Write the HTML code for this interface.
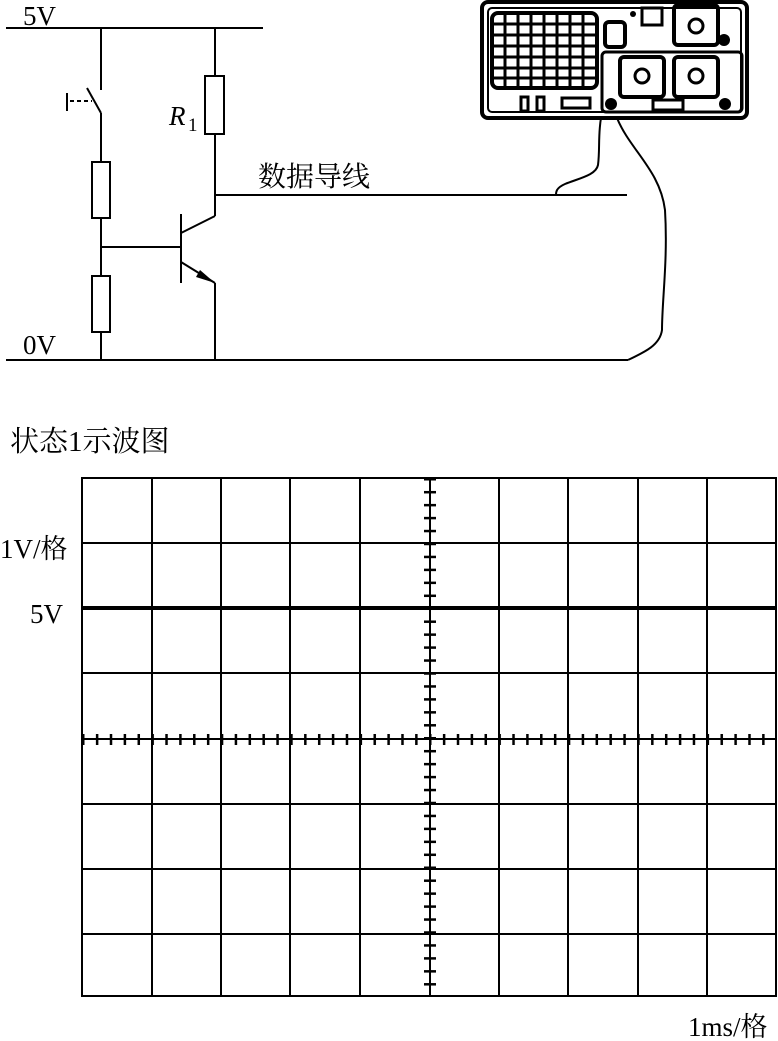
<!DOCTYPE html>
<html><head><meta charset="utf-8"><style>
html,body{margin:0;padding:0;background:#fff;}
svg{display:block;}
text{font-family:"Liberation Serif","Noto Serif CJK SC",serif;fill:#000;}
</style></head><body>
<svg width="778" height="1041" viewBox="0 0 778 1041" xmlns="http://www.w3.org/2000/svg">
<defs>
<pattern id="ht" x="82" y="0" width="13.88" height="10" patternUnits="userSpaceOnUse"><rect x="0" y="0" width="2.5" height="10" fill="#000"/></pattern>
<pattern id="vt" x="0" y="478" width="10" height="12.95" patternUnits="userSpaceOnUse"><rect x="0" y="0" width="10" height="2.5" fill="#000"/></pattern>
</defs>
<g stroke="#000" stroke-width="2" fill="none">
<line x1="6" y1="28" x2="263" y2="28"/>
<line x1="101" y1="28" x2="101" y2="90"/>
<line x1="87" y1="88" x2="101" y2="113"/>
<line x1="67" y1="93" x2="67" y2="111"/>
<line x1="70" y1="101" x2="92" y2="101" stroke-dasharray="4,3"/>
<line x1="101" y1="113" x2="101" y2="162"/>
<rect x="92" y="162" width="18" height="56"/>
<line x1="101" y1="218" x2="101" y2="276"/>
<line x1="101" y1="247" x2="180" y2="247"/>
<rect x="92" y="276" width="18" height="56"/>
<line x1="101" y1="332" x2="101" y2="360"/>
<line x1="6" y1="360" x2="628" y2="360"/>
<line x1="215" y1="28" x2="215" y2="76"/>
<rect x="205" y="76" width="19" height="58"/>
<line x1="215" y1="134" x2="215" y2="216"/>
<line x1="215" y1="195" x2="627" y2="195"/>
<line x1="181" y1="214" x2="181" y2="283"/>
<line x1="181" y1="233" x2="215" y2="216"/>
<line x1="181" y1="262" x2="215" y2="283"/>
<line x1="215" y1="283" x2="215" y2="360"/>
<path d="M601 118 C598 135,600 150,598 165 C596 175,580 178,565 184 C556 188,556 192,556 195"/>
<path d="M617 118 C630 150,660 170,665 210 C668 260,662 300,662 330 C660 345,645 352,628 360"/>
</g>
<polygon points="215,283 200,270 196,277" fill="#000"/>
<g stroke="#000" fill="none">
<rect x="482" y="2" width="265" height="116" rx="6" stroke-width="4"/>
<rect x="488" y="8" width="253" height="104" rx="4" stroke-width="2"/>
<rect x="492" y="13" width="105" height="75" rx="6" stroke-width="4"/>
<g stroke-width="3">
<path d="M505 14V87M518 14V87M531 14V87M544 14V87M557 14V87M570 14V87M583 14V87"/>
<path d="M493 24H596M493 35H596M493 46H596M493 57H596M493 68H596M493 78H596"/>
</g>
<rect x="605" y="22" width="20" height="25" rx="4" stroke-width="4"/>
<rect x="642" y="8" width="20" height="17" stroke-width="3"/>
<rect x="674" y="5" width="44" height="40" rx="4" stroke-width="4"/>
<circle cx="696" cy="26" r="7" stroke-width="3"/>
<rect x="602" y="52" width="140" height="60" rx="4" stroke-width="3"/>
<rect x="620" y="57" width="44" height="40" rx="4" stroke-width="4"/>
<circle cx="642" cy="76" r="7" stroke-width="3"/>
<rect x="674" y="57" width="44" height="40" rx="4" stroke-width="4"/>
<circle cx="696" cy="76" r="7" stroke-width="3"/>
<rect x="521" y="97" width="7" height="14" stroke-width="3"/>
<rect x="537" y="97" width="7" height="14" stroke-width="3"/>
<rect x="562" y="98" width="28" height="10" stroke-width="3"/>
<rect x="653" y="100" width="30" height="10" stroke-width="3"/>
</g>
<g fill="#000">
<circle cx="611" cy="104" r="6"/><circle cx="725" cy="104" r="6"/><circle cx="724" cy="40" r="6"/>
<circle cx="633" cy="14" r="3"/>
</g>
<text x="23" y="25" font-size="27">5V</text>
<text x="23" y="354" font-size="27">0V</text>
<text x="169" y="125" font-size="27" font-style="italic">R</text>
<text x="188" y="131" font-size="19">1</text>
<text x="258" y="186" font-size="28">数据导线</text>
<text x="10" y="451" font-size="29">状态1示波图</text>
<text x="0" y="558" font-size="27">1V/格</text>
<text x="30" y="623" font-size="27">5V</text>
<text x="688" y="1036" font-size="27">1ms/格</text>
<g stroke="#000" stroke-width="2" fill="none">
<rect x="82" y="478" width="694" height="518"/>
<path d="M152 478V996M221 478V996M290 478V996M360 478V996M430 478V996M499 478V996M568 478V996M638 478V996M707 478V996"/>
<path d="M82 543H776M82 673H776M82 739H776M82 804H776M82 869H776M82 934H776"/>
</g>
<line x1="82" y1="608" x2="776" y2="608" stroke="#000" stroke-width="4"/>
<rect x="81" y="734" width="696" height="11" fill="url(#ht)"/>
<rect x="424" y="477" width="12" height="520" fill="url(#vt)"/>
</svg>
</body></html>
